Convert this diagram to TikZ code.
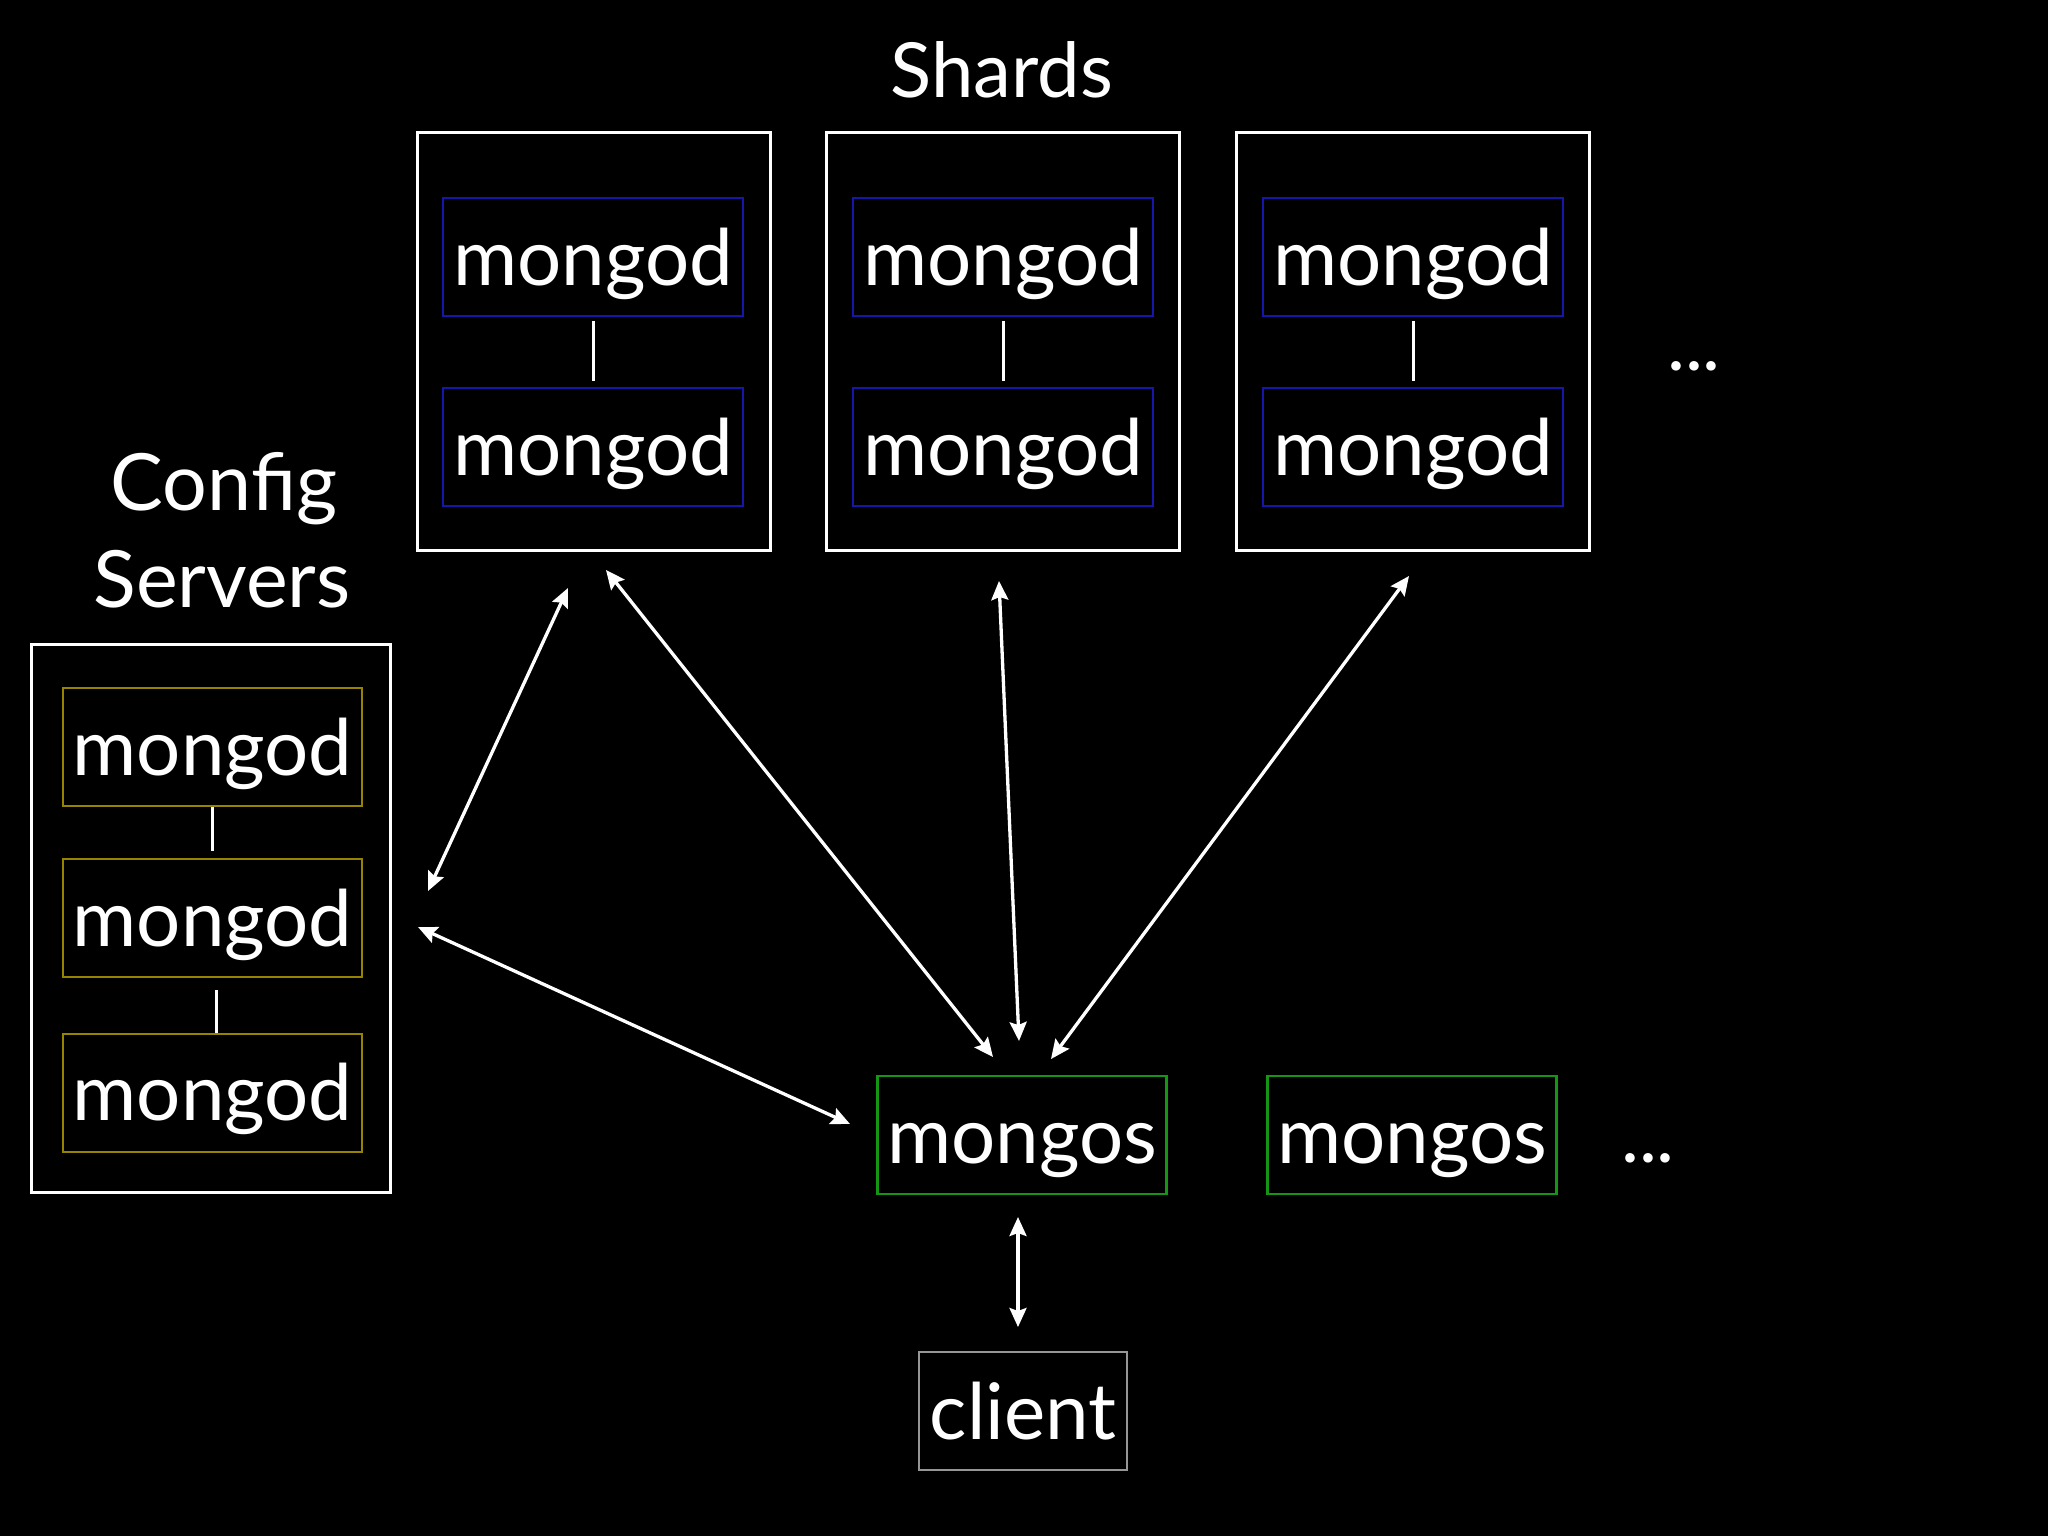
\documentclass[tikz,border=0pt]{standalone}
\usepackage{fontspec}
\setmainfont{Lato}
\usetikzlibrary{arrows.meta}
\definecolor{mblue}{RGB}{22,22,170}
\definecolor{molive}{RGB}{150,132,0}
\definecolor{mgreen}{RGB}{20,150,20}
\definecolor{mgray}{RGB}{150,150,150}
\tikzset{
  txt/.style={text=white,font=\fontsize{78}{84}\selectfont,inner sep=0pt,text height=60pt,text depth=4pt},
  outerbox/.style={draw=white,line width=3pt,inner sep=0pt},
  shardbox/.style={txt,draw=mblue,line width=2pt,minimum width=300pt,minimum height=118pt},
  cfgbox/.style={txt,draw=molive,line width=2pt,minimum width=299pt,minimum height=118pt},
  msbox/.style={txt,draw=mgreen,line width=2.5pt,minimum width=289pt,minimum height=118pt},
  clbox/.style={txt,draw=mgray,line width=2.5pt,minimum width=208pt,minimum height=118pt},
  link/.style={draw=white,line width=3pt},
  conn/.style={draw=white,line width=3.3pt,{Stealth[length=19pt,width=17pt,inset=3pt]}-{Stealth[length=19pt,width=17pt,inset=3pt]}},
  title/.style={text=white,font=\fontsize{76}{84}\selectfont,inner sep=0pt,anchor=base},
  ctitle/.style={title,font=\fontsize{79}{86}\selectfont}
}
\begin{document}
\begin{tikzpicture}[x=1pt,y=-1pt]
\fill[black] (0,0) rectangle (2048,1536);
\useasboundingbox (0,0) rectangle (2048,1536);

% titles
\node[title] (shards) at (1002,98) {Shards};
\node[ctitle] (cfg1) at (224,510) {Config};
\node[ctitle] (cfg2) at (222,607) {Servers};
\node[title] (dots1) at (1694,370) {...};
\node[title] (dots2) at (1648,1162) {...};

% shard outer boxes
\node[outerbox,minimum width=353pt,minimum height=417pt] (s1) at (593.5,341.5) {};
\node[outerbox,minimum width=353pt,minimum height=417pt] (s2) at (1003,341.5) {};
\node[outerbox,minimum width=353pt,minimum height=417pt] (s3) at (1413,341.5) {};

% shard mongods
\node[shardbox] (s1a) at (593,257) {mongod};
\node[shardbox] (s1b) at (593,447) {mongod};
\node[shardbox] (s2a) at (1003,257) {mongod};
\node[shardbox] (s2b) at (1003,447) {mongod};
\node[shardbox] (s3a) at (1413,257) {mongod};
\node[shardbox] (s3b) at (1413,447) {mongod};
\draw[link] ([yshift=-4pt]s1a.south) -- ([yshift=6pt]s1b.north);
\draw[link] ([yshift=-4pt]s2a.south) -- ([yshift=6pt]s2b.north);
\draw[link] ([yshift=-4pt]s3a.south) -- ([yshift=6pt]s3b.north);

% config servers
\node[outerbox,minimum width=359pt,minimum height=548pt] (cfg) at (210.5,918) {};
\node[cfgbox] (c1) at (212.5,747) {mongod};
\node[cfgbox] (c2) at (212.5,918) {mongod};
\node[cfgbox] (c3) at (212.5,1092.5) {mongod};
\draw[link] (c1.south) -- ([yshift=7pt]c2.north);
\draw[link] ([yshift=-12pt,xshift=4pt]c2.south) -- ([xshift=4pt]c3.north);

% mongos and client
\node[msbox] (ms1) at (1022,1135) {mongos};
\node[msbox] (ms2) at (1412,1135) {mongos};
\node[clbox] (cl) at (1023,1411) {client};

% arrow end points
\coordinate (a1) at (606,570);
\coordinate (a2) at (993,1057);
\coordinate (b1) at (568,588);
\coordinate (b2) at (428,891);
\coordinate (c1e) at (418,927);
\coordinate (c2e) at (850,1124);
\coordinate (d1) at (999,581);
\coordinate (d2) at (1019,1041);
\coordinate (e1) at (1409,576);
\coordinate (e2) at (1051,1059);
\coordinate (f1) at (1018,1217);
\coordinate (f2) at (1018,1327);

\draw[conn] (a1) -- (a2);
\draw[conn] (b1) -- (b2);
\draw[conn] (c1e) -- (c2e);
\draw[conn] (d1) -- (d2);
\draw[conn] (e1) -- (e2);
\draw[conn] (f1) -- (f2);
\end{tikzpicture}
\end{document}
